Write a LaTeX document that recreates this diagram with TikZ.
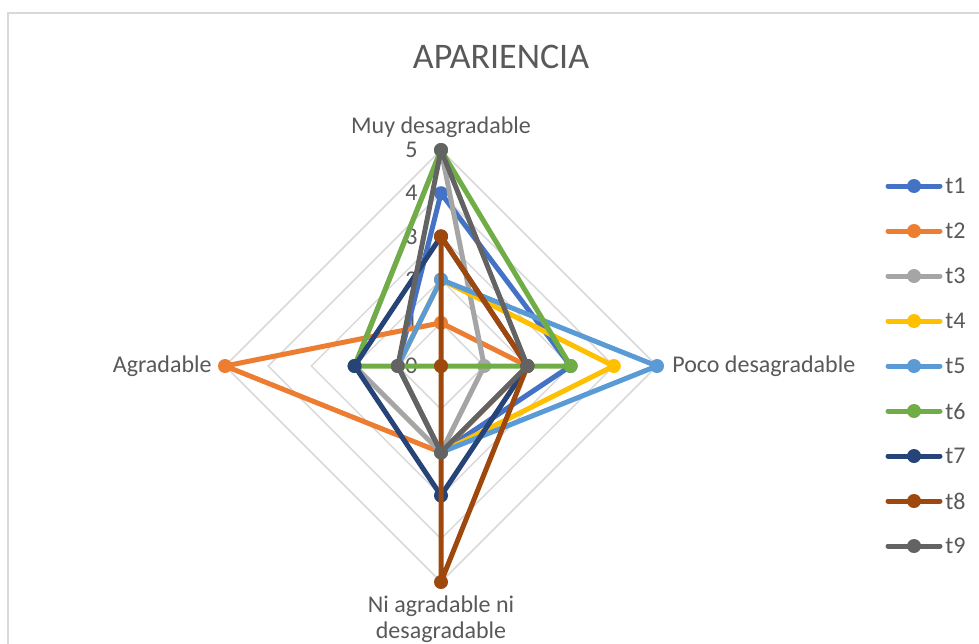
\documentclass[tikz,border=0pt]{standalone}
\usepackage{fontspec}
\setmainfont{Carlito}
\usepackage{tikz}
\definecolor{txt}{HTML}{595959}
\definecolor{grd}{HTML}{D9D9D9}
\definecolor{t1}{HTML}{4472C4}
\definecolor{t2}{HTML}{ED7D31}
\definecolor{t3}{HTML}{A5A5A5}
\definecolor{t4}{HTML}{FFC000}
\definecolor{t5}{HTML}{5B9BD5}
\definecolor{t6}{HTML}{70AD47}
\definecolor{t7}{HTML}{264478}
\definecolor{t8}{HTML}{9E480E}
\definecolor{t9}{HTML}{636363}
\tikzset{
	serie/.style={line width=2.5pt, line join=round},
	rotulo/.style={text=txt, inner sep=1pt, font=\fontsize{12}{13}\selectfont}
}

\begin{document}
\begin{tikzpicture}[x=0.5pt, y=-0.5pt]
				\useasboundingbox (0,0) rectangle (979,643);
				\draw[grd, line width=0.75pt] (8,700) -- (8,13) -- (990,13);
				\node[text=txt, font=\fontsize{18}{22}\selectfont] (titulo) at (501,57) {APARIENCIA};
				\foreach \r in {1,...,5} {
					\draw[grd, line width=0.75pt] (441,{366-43.2*\r}) -- ({441+43.2*\r},366) -- (441,{366+43.2*\r}) -- ({441-43.2*\r},366) -- cycle;
				}
				\foreach \v in {0,...,5} {
					\node[rotulo, anchor=east] (v\v) at (420,{366-43.2*\v}) {\v};
				}
				\foreach \n/\a/\b/\c/\d in {t1/4/3/2/1, t2/1/2/2/5, t3/5/1/2/2, t4/2/4/2/1, t5/2/5/2/1, t6/5/3/0/2, t7/3/2/3/2, t8/3/2/5/0, t9/5/2/2/1} {
					\coordinate (\n-1) at (441,{366-43.2*\a});
					\coordinate (\n-2) at ({441+43.2*\b},366);
					\coordinate (\n-3) at (441,{366+43.2*\c});
					\coordinate (\n-4) at ({441-43.2*\d},366);
					\draw[serie, draw=\n] (\n-1) -- (\n-2) -- (\n-3) -- (\n-4) -- cycle;
					\foreach \k in {1,...,4} {
						\fill[\n] (\n-\k) circle (3.5pt);
					}
				}
				\node[rotulo] (muy) at (441,127) {Muy desagradable};
				\node[rotulo, anchor=west] (poco) at (670,366) {Poco desagradable};
				\node[rotulo, anchor=east] (agr) at (214,366) {Agradable};
				\node[rotulo, align=center] (ni) at (441,619) {Ni agradable ni\\desagradable};
				\foreach \n [count=\i from 0] in {t1,t2,t3,t4,t5,t6,t7,t8,t9} {
					\draw[serie, draw=\n, line cap=round] (888,{186+45*\i}) -- (940,{186+45*\i});
					\fill[\n] (914,{186+45*\i}) circle (3.5pt);
					\node[rotulo, anchor=west] (ley-\n) at (943,{186+45*\i}) {\n};
				}
			\end{tikzpicture}
\end{document}
